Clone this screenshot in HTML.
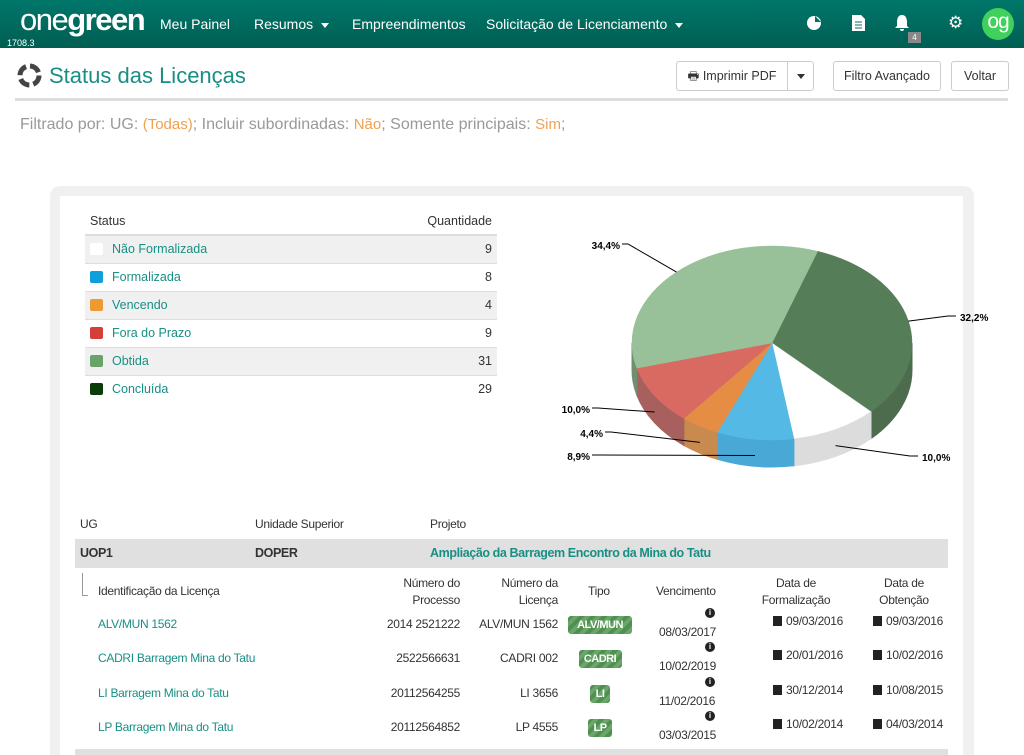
<!DOCTYPE html>
<html><head><meta charset="utf-8">
<style>
*{box-sizing:border-box;margin:0;padding:0}
html,body{width:1024px;height:755px;overflow:hidden}
body{background:#fff;font-family:"Liberation Sans",sans-serif;color:#333;position:relative}
.abs{position:absolute}
.nav{left:0;top:0;width:1024px;height:48px;background:linear-gradient(#00776a,#005e52)}
.nav .it{position:absolute;top:16px;color:#fff;font-size:14px}
.caret{display:inline-block;width:0;height:0;border-left:4px solid transparent;border-right:4px solid transparent;border-top:5px solid #fff;margin-left:8px;vertical-align:middle}
.btn{position:absolute;top:61px;height:30px;border:1px solid #ccc;border-radius:3px;background:#fff;font-size:12.5px;color:#333;text-align:center;line-height:28px}
.link{color:#188f84}
table{border-collapse:collapse}
.st td{height:28px;font-size:12.5px;border-top:1px solid #ddd}
.sw{display:inline-block;width:13px;height:12px;border-radius:2px;vertical-align:-2px;margin:0 9px 0 5px}
.lt{font-size:12px;letter-spacing:-0.3px}
.badge{position:absolute;height:18px;border-radius:3px;color:#fff;font-weight:bold;font-size:11px;line-height:18px;text-align:center;letter-spacing:-0.5px;background:repeating-linear-gradient(135deg,#4f8f4f 0 4px,#6aa66a 4px 8px)}
.sq{display:inline-block;width:9px;height:10px;background:#222;margin-right:4px;vertical-align:-1px}
</style></head><body>
<div class="abs nav">
  <div class="abs" style="left:20px;top:2px;color:#fff;font-size:31px;letter-spacing:-1.5px"><span style="font-weight:normal">one</span><b>green</b></div>
  <div class="abs" style="left:7px;top:38px;color:#fff;font-size:9px">1708.3</div>
  <div class="it" style="left:160px">Meu Painel</div>
  <div class="it" style="left:254px">Resumos<span class="caret"></span></div>
  <div class="it" style="left:352px">Empreendimentos</div>
  <div class="it" style="left:486px">Solicitação de Licenciamento<span class="caret"></span></div>
  <svg class="abs" style="left:806px;top:15px" width="16" height="16"><circle cx="8" cy="8" r="7" fill="#fff"/><path d="M9 1 L9 7 L15 7" fill="#00705f"/></svg>
  <svg class="abs" style="left:852px;top:15px" width="13" height="16"><path d="M0 0h9l4 4v12H0z" fill="#fff"/><path d="M3 7h7M3 10h7M3 13h7" stroke="#00705f"/></svg>
  <svg class="abs" style="left:894px;top:15px" width="16" height="17"><path d="M8 0c-4 0-5 4-5 7v4l-2 2h14l-2-2V7c0-3-1-7-5-7zM6 14h4a2 2 0 0 1-4 0" fill="#fff"/></svg>
  <div class="abs" style="left:908px;top:32px;width:13px;height:11px;background:#888;color:#fff;font-size:8px;text-align:center;line-height:11px">4</div>
  <div class="abs" style="left:948px;top:13px;color:#fff;font-size:17px">⚙</div>
  <div class="abs" style="left:982px;top:8px;width:32px;height:32px;border-radius:50%;background:#3fd15c;color:#fff;font-size:21px;text-align:center;line-height:28px;letter-spacing:-1px">og</div>
</div>
<svg class="abs" style="left:16px;top:62px" width="27" height="27" viewBox="0 0 27 27"><circle cx="13.5" cy="13.5" r="9.5" fill="none" stroke="#444" stroke-width="5" stroke-dasharray="11 4"/></svg>
<div class="abs" style="left:49px;top:63px;font-size:22px;color:#188f84">Status das Licenças</div>
<div class="btn" style="left:676px;width:112px;border-radius:3px 0 0 3px">🖶 Imprimir PDF</div>
<div class="btn" style="left:787px;width:27px;border-radius:0 3px 3px 0"><span class="caret" style="border-top-color:#333;margin:0"></span></div>
<div class="btn" style="left:833px;width:108px">Filtro Avançado</div>
<div class="btn" style="left:951px;width:58px">Voltar</div>
<div class="abs" style="left:15px;top:98px;width:993px;height:3px;border-top:1px solid #ddd;border-bottom:2px solid #ddd"></div>
<div class="abs" style="left:20px;top:116px;font-size:16px;color:#999">Filtrado por: UG: <span style="color:#f0a050;font-size:15px">(Todas)</span>; Incluir subordinadas: <span style="color:#f0a050;font-size:15px">Não</span>; Somente principais: <span style="color:#f0a050;font-size:15px">Sim</span>;</div>

<div class="abs" style="left:50px;top:186px;width:924px;height:569px;background:#f0f0f0;border-radius:10px 10px 0 0"></div>
<div class="abs" style="left:60px;top:196px;width:903px;height:559px;background:#fff"></div>

<table class="abs st" style="left:85px;top:207px;width:412px">
<tr><td style="border:none;border-bottom:2px solid #ddd;padding-left:5px;height:26px">Status</td><td style="border:none;border-bottom:2px solid #ddd;text-align:right;padding-right:5px">Quantidade</td></tr>
<tr style="background:#f0f0f0"><td><span class="sw" style="background:#fff"></span><span class="link">Não Formalizada</span></td><td style="text-align:right;padding-right:5px">9</td></tr>
<tr><td><span class="sw" style="background:#0ea0dc"></span><span class="link">Formalizada</span></td><td style="text-align:right;padding-right:5px">8</td></tr>
<tr style="background:#f0f0f0"><td><span class="sw" style="background:#ee9a33"></span><span class="link">Vencendo</span></td><td style="text-align:right;padding-right:5px">4</td></tr>
<tr><td><span class="sw" style="background:#d43f3a"></span><span class="link">Fora do Prazo</span></td><td style="text-align:right;padding-right:5px">9</td></tr>
<tr style="background:#f0f0f0"><td><span class="sw" style="background:#6aa36a"></span><span class="link">Obtida</span></td><td style="text-align:right;padding-right:5px">31</td></tr>
<tr><td><span class="sw" style="background:#0b3d0b"></span><span class="link">Concluída</span></td><td style="text-align:right;padding-right:5px">29</td></tr>
</table>

<svg id="pie" class="abs" style="left:0;top:0" width="1024" height="500"></svg>

<div class="abs lt" style="left:80px;top:517px">UG</div>
<div class="abs lt" style="left:255px;top:517px">Unidade Superior</div>
<div class="abs lt" style="left:430px;top:517px">Projeto</div>
<div class="abs" style="left:75px;top:539px;width:873px;height:29px;background:#e0e0e0;font-size:12.5px;font-weight:bold;line-height:29px;letter-spacing:-0.4px">
 <span class="abs" style="left:5px">UOP1</span><span class="abs" style="left:180px">DOPER</span><span class="abs link" style="left:355px">Ampliação da Barragem Encontro da Mina do Tatu</span></div>
<div class="abs" style="left:82px;top:573px;width:6px;height:23px;border-left:1px solid #999;border-bottom:1px solid #999"></div>
<div class="abs lt" style="left:98px;top:584px">Identificação da Licença</div>
<div class="abs lt" style="left:380px;top:575px;width:80px;text-align:right;line-height:17px">Número do<br>Processo</div>
<div class="abs lt" style="left:478px;top:575px;width:80px;text-align:right;line-height:17px">Número da<br>Licença</div>
<div class="abs lt" style="left:588px;top:584px">Tipo</div>
<div class="abs lt" style="left:656px;top:584px">Vencimento</div>
<div class="abs lt" style="left:755px;top:575px;width:82px;text-align:center;line-height:17px">Data de<br>Formalização</div>
<div class="abs lt" style="left:870px;top:575px;width:68px;text-align:center;line-height:17px">Data de<br>Obtenção</div>
<div id="rows"></div>
<div class="abs" style="left:75px;top:749px;width:873px;height:6px;background:#e0e0e0"></div>

<script>
const statusNames=["Concluída","Não Formalizada","Formalizada","Vencendo","Fora do Prazo","Obtida"];
const statusValues=[29,9,8,4,9,31];
const topColors=["#557d57","#ffffff","#55b9e6","#e58c45","#d86a62","#98c199"];
const sideColors=["#4d6c4e","#dcdcdc","#4aa8d6","#c98a4f","#a8605e","#6f8f70"];
const svg=document.getElementById('pie');const NS='http://www.w3.org/2000/svg';
const cx=772,cy=343,rx=140,ry=97,depth=27;
const total=statusValues.reduce((a,b)=>a+b,0);
function pt(a,dy){return [cx+rx*Math.cos(a),cy+ry*Math.sin(a)+(dy||0)];}
let a0=-71*Math.PI/180;const slices=[];
statusValues.forEach((v,i)=>{const a1=a0+v/total*2*Math.PI;slices.push([a0,a1,i]);a0=a1;});
slices.forEach(([s,e,i])=>{
  [[s,e],[s-2*Math.PI,e-2*Math.PI]].forEach(([ss,ee])=>{const lo=Math.max(ss,0),hi=Math.min(ee,Math.PI);
  if(hi>lo){const p1=pt(lo),p2=pt(hi),p3=pt(hi,depth),p4=pt(lo,depth);
    const p=document.createElementNS(NS,'path');
    p.setAttribute('d',`M${p1}A${rx},${ry} 0 0 1 ${p2}L${p3}A${rx},${ry} 0 0 0 ${p4}Z`);
    p.setAttribute('fill',sideColors[i]);p.setAttribute('stroke',sideColors[i]);
    
    
    svg.appendChild(p);}});
});
slices.forEach(([s,e,i])=>{
  const p1=pt(s),p2=pt(e);const large=(e-s)>Math.PI?1:0;
  const p=document.createElementNS(NS,'path');
  p.setAttribute('d',`M${cx},${cy}L${p1}A${rx},${ry} 0 ${large} 1 ${p2}Z`);
  p.setAttribute('fill',topColors[i]);p.setAttribute('stroke',i==1?'#ddd':topColors[i]);p.setAttribute('stroke-width','0.5');
  
  
  svg.appendChild(p);
});
const labelAnchors=[[960,321,'start'],[922,461,'start'],[590,460,'end'],[603,437,'end'],[590,413,'end'],[620,249,'end']];
slices.forEach(([s,e,i])=>{
  const m=(s+e)/2;const [mx,my]=pt(m,Math.sin(m)>0.2?depth*0.6:0);
  const [lx,ly,anc]=labelAnchors[i];
  const ex=anc=='start'?lx-12:lx+8;
  const l=document.createElementNS(NS,'polyline');
  l.setAttribute('points',`${mx},${my} ${ex},${ly-5} ${anc=='start'?lx-4:lx+2},${ly-5}`);
  l.setAttribute('fill','none');l.setAttribute('stroke','#000');l.setAttribute('stroke-width','1');
  
  
  svg.appendChild(l);
  const t=document.createElementNS(NS,'text');
  t.setAttribute('x',lx);t.setAttribute('y',ly);t.setAttribute('text-anchor',anc);
  t.setAttribute('font-size','10');t.setAttribute('font-weight','bold');t.setAttribute('font-family','Liberation Sans, sans-serif');
  t.textContent=(statusValues[i]/total*100).toFixed(1).replace('.',',')+'%';
  
  
  svg.appendChild(t);
});
const licNames=["ALV/MUN 1562","CADRI Barragem Mina do Tatu","LI Barragem Mina do Tatu","LP Barragem Mina do Tatu"];
const procNums=["2014 2521222","2522566631","20112564255","20112564852"];
const licNums=["ALV/MUN 1562","CADRI 002","LI 3656","LP 4555"];
const types=["ALV/MUN","CADRI","LI","LP"];
const dues=["08/03/2017","10/02/2019","11/02/2016","03/03/2015"];
const formDates=["09/03/2016","20/01/2016","30/12/2014","10/02/2014"];
const obtDates=["09/03/2016","10/02/2016","10/08/2015","04/03/2014"];
const badgeW=[64,43,20,24];
const rows=document.getElementById('rows');let h='';
licNames.forEach((n,i)=>{const y=616+i*34.4;
h+=`<div class="abs lt link" style="left:98px;top:${y+1}px">${n}</div>`;
h+=`<div class="abs lt" style="left:360px;width:100px;text-align:right;top:${y+1}px">${procNums[i]}</div>`;
h+=`<div class="abs lt" style="left:458px;width:100px;text-align:right;top:${y+1}px">${licNums[i]}</div>`;
h+=`<div class="badge" style="left:${600-badgeW[i]/2}px;width:${badgeW[i]}px;top:${y}px">${types[i]}</div>`;
h+=`<div class="abs" style="left:705px;top:${y-8}px;width:10px;height:10px;border-radius:50%;background:#222;color:#fff;font-size:8px;font-weight:bold;text-align:center;line-height:10px">i</div>`;
h+=`<div class="abs lt" style="left:659px;top:${y+9}px">${dues[i]}</div>`;
h+=`<div class="abs lt" style="left:773px;top:${y-2}px"><span class="sq"></span>${formDates[i]}</div>`;
h+=`<div class="abs lt" style="left:873px;top:${y-2}px"><span class="sq"></span>${obtDates[i]}</div>`;
});
rows.innerHTML=h;
</script>
</body></html>
